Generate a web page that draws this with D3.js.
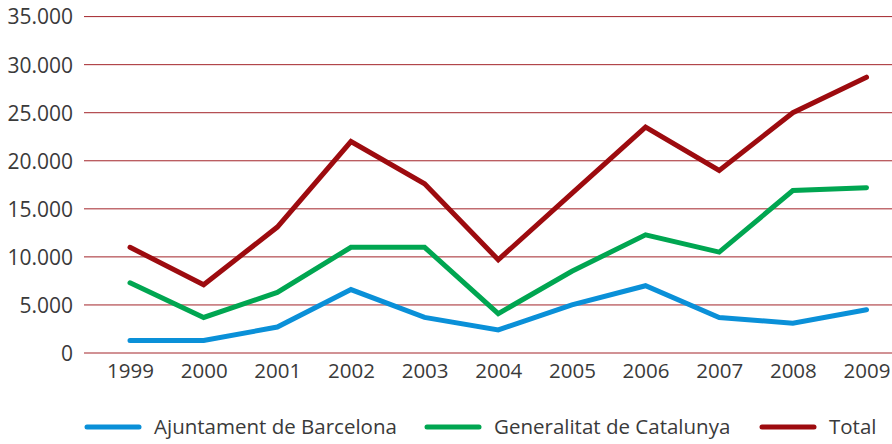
<!DOCTYPE html>
<html><head><meta charset="utf-8">
<script src="https://cdn.jsdelivr.net/npm/d3@7"></script>
<style>body{margin:0;background:#fff}svg{display:block}text{font-family:"Open Sans",sans-serif;fill:#3a3a3a}</style>
</head><body><svg id="c" width="892" height="444"></svg>
<script>
const years = ["1999","2000","2001","2002","2003","2004","2005","2006","2007","2008","2009"];
const ajuntament = [1300,1300,2700,6600,3700,2400,5000,7000,3700,3100,4500];
const generalitat = [7300,3700,6300,11000,11000,4100,8500,12300,10500,16900,17200];
const total = [11000,7100,13100,22000,17600,9700,16600,23500,19000,25000,28700];
const yTicks = [0,5000,10000,15000,20000,25000,30000,35000];
const seriesNames = ["Ajuntament de Barcelona","Generalitat de Catalunya","Total"];
const seriesColors = ["#0a90d8","#00a651","#9d0b0f"];

const svg = d3.select("#c");
const x = d3.scalePoint().domain(years).range([130,866.5]);
const y = d3.scaleLinear().domain([0,35000]).range([353,16.6]);
const fmt = v => d3.format(",")(v).replace(/,/g,".");

// gridlines
svg.append("g").selectAll("line").data(yTicks).join("line")
  .attr("x1",84).attr("x2",892)
  .attr("y1",d=>y(d)).attr("y2",d=>y(d))
  .attr("stroke","#a3242a").attr("stroke-width",1);

// y axis
const ya = svg.append("g").attr("transform","translate(73,0)")
  .call(d3.axisLeft(y).tickValues(yTicks).tickFormat(fmt).tickSize(0).tickPadding(0));
ya.select(".domain").remove();
ya.selectAll("text").attr("font-size",21).attr("font-family","Open Sans").attr("fill","#3a3a3a").attr("dy","0.35em");

// x axis
const xa = svg.append("g").attr("transform","translate(0,363)")
  .call(d3.axisBottom(x).tickSize(0).tickPadding(0));
xa.select(".domain").remove();
xa.selectAll("text").attr("font-size",20.5).attr("font-family","Open Sans").attr("fill","#3a3a3a").attr("dy","0.71em");

// lines
const line = d3.line().x((d,i)=>x(years[i])).y(d=>y(d));
[ajuntament,generalitat,total].forEach((s,k)=>{
  svg.append("path").datum(s).attr("d",line).attr("fill","none")
    .attr("stroke",seriesColors[k]).attr("stroke-width",5)
    .attr("stroke-linejoin","miter").attr("stroke-linecap","round");
});

// legend
const legX = [87,427,762];
const lg = svg.append("g");
seriesNames.forEach((n,k)=>{
  lg.append("line").attr("x1",legX[k]).attr("x2",legX[k]+52).attr("y1",427).attr("y2",427)
    .attr("stroke",seriesColors[k]).attr("stroke-width",5).attr("stroke-linecap","round");
  lg.append("text").attr("x",legX[k]+67).attr("y",427).attr("dy","0.35em")
    .attr("font-size",20.5).text(n);
});
</script></body></html>
